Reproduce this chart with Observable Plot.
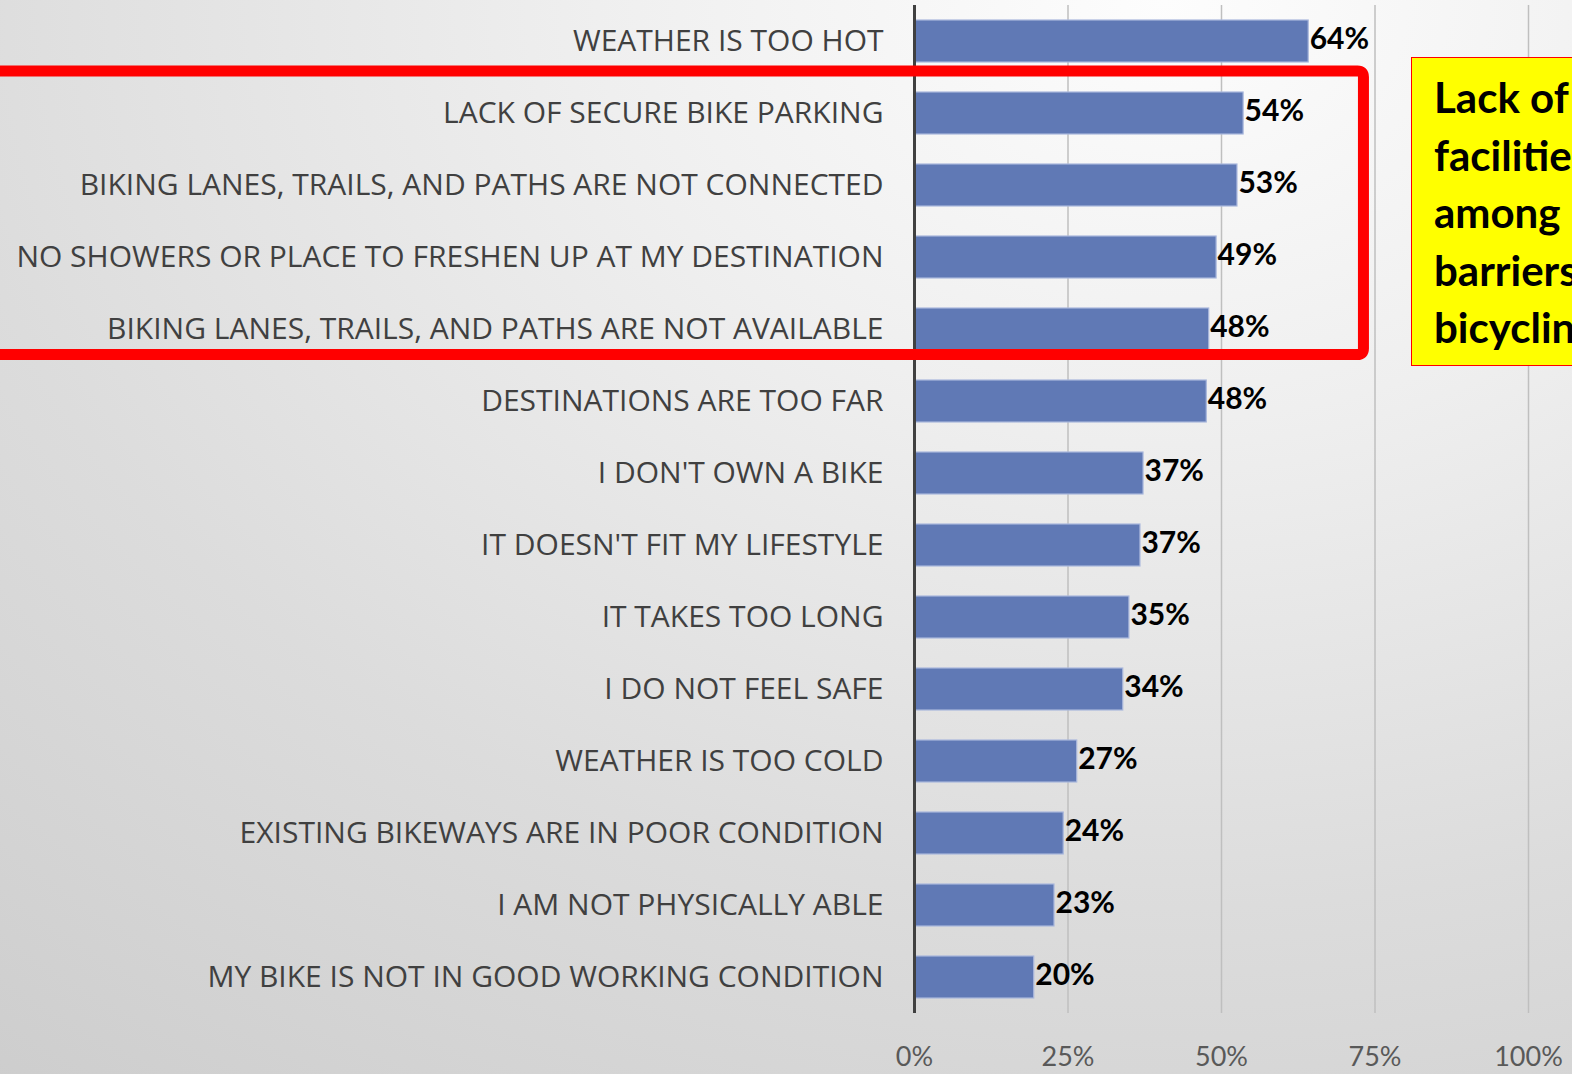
<!DOCTYPE html>
<html>
<head>
<meta charset="utf-8">
<script src="https://cdn.jsdelivr.net/npm/d3@7"></script>
<script src="https://cdn.jsdelivr.net/npm/@observablehq/plot@0.6"></script>
<style>
  html, body { margin: 0; padding: 0; width: 1572px; height: 1074px; overflow: hidden; }
  body {
    background: radial-gradient(ellipse 120% 130% at 74% 0%, #fdfdfd 0%, #efefef 30%, #dcdcdc 65%, #cdcdcd 100%);
    position: relative;
    font-family: "Open Sans", sans-serif;
  }
  #chart { position: absolute; left: 0; top: 0; }
  #callout {
    position: absolute; left: 1411px; top: 57px; width: 240px; height: 309px;
    background: #ffff00; border: 1.5px solid #ff0000; box-sizing: border-box;
    font-family: Lato, sans-serif; font-weight: 700; font-size: 42px; line-height: 57.5px;
    color: #000; padding: 11px 0 0 22px; white-space: nowrap; overflow: hidden;
  }
</style>
</head>
<body>
<div id="chart"></div>
<div id="callout"></div>
<script>
const categories = [
  "WEATHER IS TOO HOT",
  "LACK OF SECURE BIKE PARKING",
  "BIKING LANES, TRAILS, AND PATHS ARE NOT CONNECTED",
  "NO SHOWERS OR PLACE TO FRESHEN UP AT MY DESTINATION",
  "BIKING LANES, TRAILS, AND PATHS ARE NOT AVAILABLE",
  "DESTINATIONS ARE TOO FAR",
  "I DON'T OWN A BIKE",
  "IT DOESN'T FIT MY LIFESTYLE",
  "IT TAKES TOO LONG",
  "I DO NOT FEEL SAFE",
  "WEATHER IS TOO COLD",
  "EXISTING BIKEWAYS ARE IN POOR CONDITION",
  "I AM NOT PHYSICALLY ABLE",
  "MY BIKE IS NOT IN GOOD WORKING CONDITION"
];
const values = [64.2, 53.6, 52.6, 49.2, 48.0, 47.6, 37.3, 36.8, 35.0, 34.0, 26.5, 24.3, 22.8, 19.5];
const valueLabels = ["64%", "54%", "53%", "49%", "48%", "48%", "37%", "37%", "35%", "34%", "27%", "24%", "23%", "20%"];
const xTicks = [0, 25, 50, 75, 100];
const highlighted = [
  "LACK OF SECURE BIKE PARKING",
  "BIKING LANES, TRAILS, AND PATHS ARE NOT CONNECTED",
  "NO SHOWERS OR PLACE TO FRESHEN UP AT MY DESTINATION",
  "BIKING LANES, TRAILS, AND PATHS ARE NOT AVAILABLE"
];
const calloutLines = ["Lack of", "facilities", "among", "barriers", "bicycling"];

(function () {
  const data = categories.map((c, i) => ({category: c, value: values[i], label: valueLabels[i]}));

  const chart = Plot.plot({
    width: 1572,
    height: 1074,
    marginLeft: 914,
    marginRight: 44,
    marginTop: 5,
    marginBottom: 61,
    style: {background: "transparent", overflow: "visible", fontFamily: "'Open Sans', sans-serif"},
    x: {domain: [0, 100], axis: null},
    y: {domain: categories, paddingInner: 0.415, paddingOuter: 0.2075, axis: null},
    marks: [
      Plot.ruleX(xTicks.slice(1), {stroke: "#bfbfbf", strokeWidth: 1.5}),
      Plot.barX(data, {y: "category", x: "value", fill: "#6079B5", stroke: "#a9b7dc", strokeWidth: 1.2}),
      Plot.ruleX([0], {stroke: "#404040", strokeWidth: 3}),
      Plot.text(data, {y: "category", x: "value", text: "label", textAnchor: "start", dx: 1, dy: -2,
        fontSize: 30, fontWeight: 700, fill: "#000", fontFamily: "Lato, sans-serif"}),
      Plot.axisY({tickSize: 0, tickPadding: 31, fontSize: 30, color: "#404040", label: null,
        fontFamily: "'Open Sans', sans-serif"}),
      Plot.axisX({ticks: xTicks, tickSize: 0, tickPadding: 33, fontSize: 27, color: "#595959",
        label: null, tickFormat: d => d + "%", fontFamily: "Lato, sans-serif"})
    ]
  });
  document.getElementById("chart").appendChild(chart);

  // Red highlight outline, positioned through the chart's own scales
  const ys = chart.scale("y"), xs = chart.scale("x");
  const bw = ys.bandwidth;
  const y0 = ys.apply(highlighted[0]) - bw * 0.5;
  const y1 = ys.apply(highlighted[highlighted.length - 1]) + bw + 4.5;
  const xr = xs.apply(73.2);
  const r = 6;
  d3.select(chart).append("path")
    .attr("d", `M-30,${y0} L${xr - r},${y0} Q${xr},${y0} ${xr},${y0 + r} L${xr},${y1 - r} Q${xr},${y1} ${xr - r},${y1} L-30,${y1}`)
    .attr("fill", "none").attr("stroke", "#ff0000").attr("stroke-width", 11).attr("stroke-linejoin", "round");

  document.getElementById("callout").innerHTML = calloutLines.map(l => `<div>${l}</div>`).join("");
})();
</script>
</body>
</html>
